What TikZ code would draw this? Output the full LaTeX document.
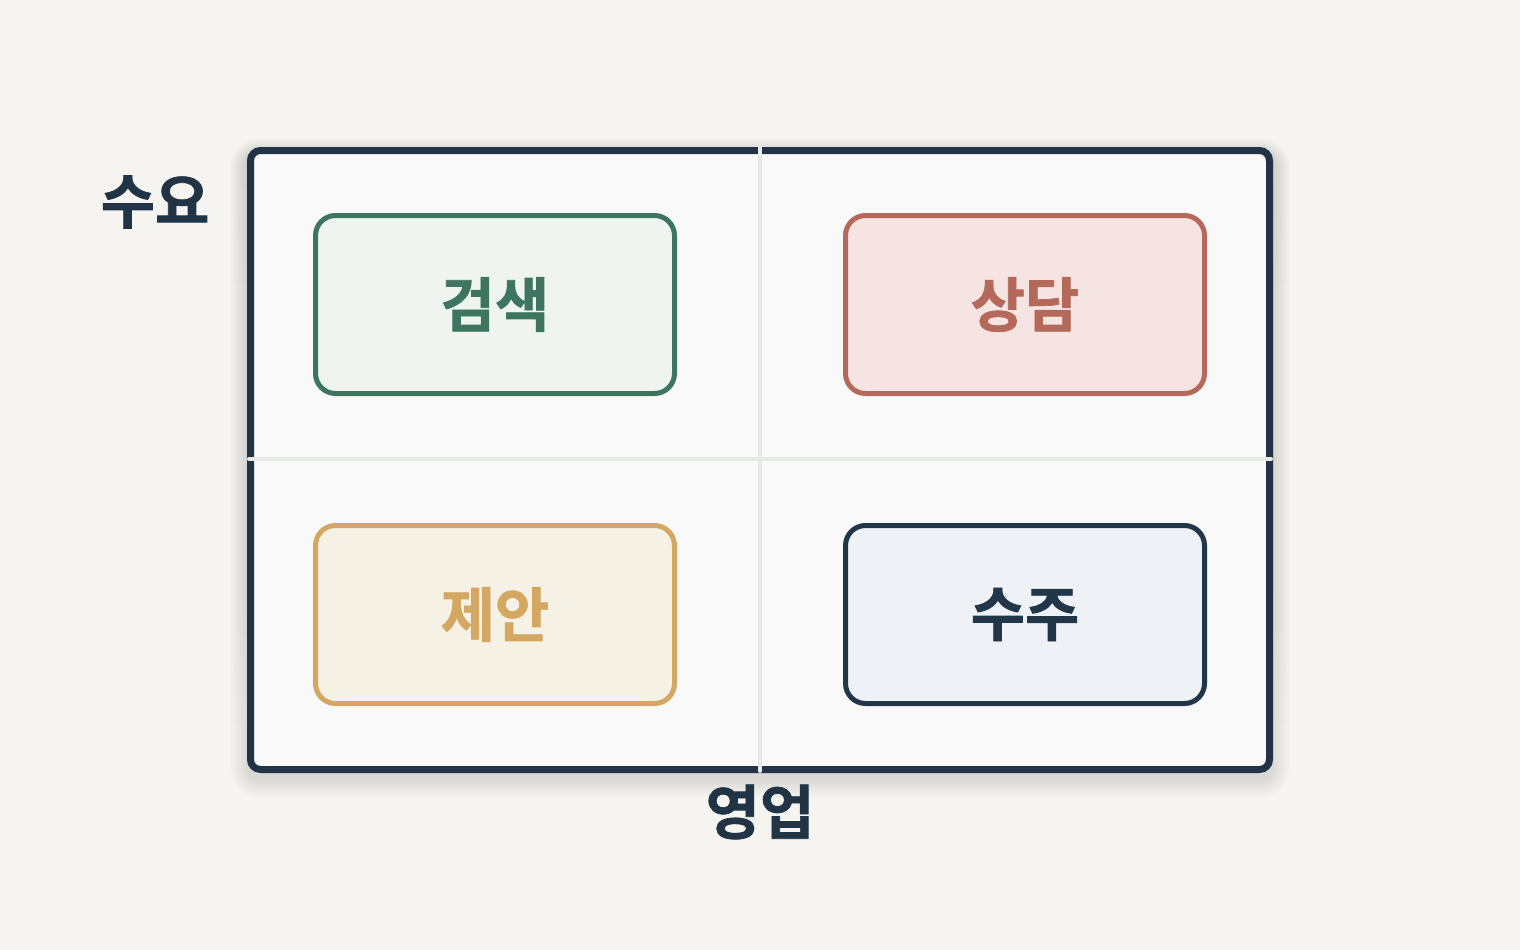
\documentclass[tikz,border=0pt]{standalone}
\usepackage{fontspec}
\newfontfamily\kr[FakeBold=1.2]{Noto Sans CJK KR Bold}
\definecolor{bg}{HTML}{F5F4F0}
\definecolor{frame}{HTML}{213446}
\definecolor{panel}{HTML}{F9F9F9}
\definecolor{divider}{HTML}{E6E9E6}
\definecolor{gline}{HTML}{3D7561}
\definecolor{gfill}{HTML}{EFF4F1}
\definecolor{rline}{HTML}{B5695B}
\definecolor{rfill}{HTML}{F5E4E1}
\definecolor{yline}{HTML}{D4A862}
\definecolor{yfill}{HTML}{F6F1E5}
\definecolor{nline}{HTML}{22364A}
\definecolor{nfill}{HTML}{EEF2F6}
\definecolor{shade}{HTML}{B0AEA8}
\tikzset{
  quad/.style={draw=#1line, fill=#1fill, line width=5pt, rounded corners=20pt,
    minimum width=359pt, minimum height=178pt, inner sep=0pt,
    text=#1line, font=\kr\fontsize{59}{61}\selectfont},
  axislabel/.style={text=frame, font=\kr\fontsize{59}{61}\selectfont, inner sep=0pt},
  divline/.style={draw=divider, line width=4pt, line cap=round}
}
\begin{document}
\begin{tikzpicture}[x=1pt,y=-1pt]
\fill[bg] (0,0) rectangle (1520,950);
\useasboundingbox (0,0) rectangle (1520,950);
\foreach \s in {16,14,...,0}{
  \fill[shade, opacity=0.012, rounded corners=12pt+\s] (247-\s,155-\s) rectangle (1273+\s,781+\s);
}
\node[draw=frame, fill=panel, line width=7pt, rounded corners=10pt,
  minimum width=1019pt, minimum height=619pt, inner sep=0pt] (frm) at (760,460) {};
\coordinate (vt) at (760,148);
\coordinate (vb) at (760,771);
\coordinate (hl) at (249,459);
\coordinate (hr) at (1271,459);
\draw[divline] (vt) -- (vb);
\draw[divline] (hl) -- (hr);
\node[quad=g] (q1) at (495,304.5) {검색};
\node[quad=r] (q2) at (1025,304.5) {상담};
\node[quad=y] (q3) at (495,614.5) {제안};
\node[quad=n] (q4) at (1025,614.5) {수주};
\node[axislabel] (ly) at (155,202) {수요};
\node[axislabel] (lx) at (760,812) {영업};
\end{tikzpicture}
\end{document}
